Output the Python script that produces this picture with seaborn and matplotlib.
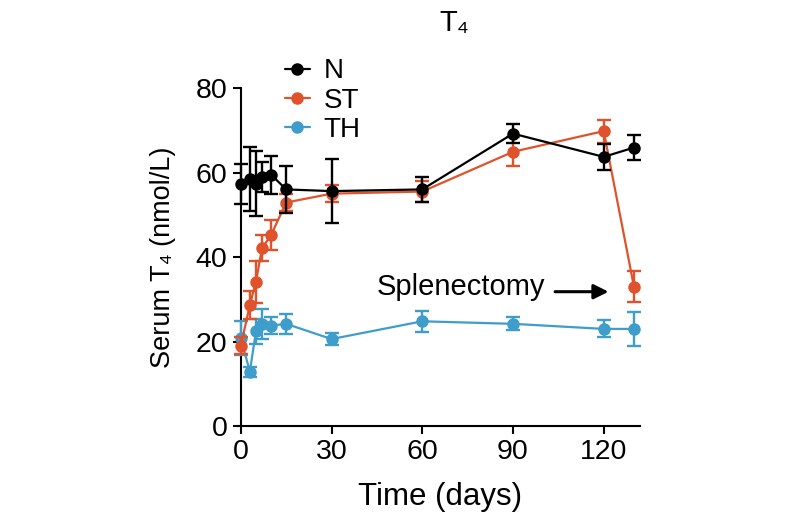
import matplotlib
matplotlib.use("Agg")
import matplotlib.pyplot as plt
import seaborn as sns
import pandas as pd
import numpy as np
from matplotlib.lines import Line2D

days = [0, 3, 5, 7, 10, 15, 30, 60, 90, 120, 130]
n_mean = [57.2, 58.5, 57.3, 59.0, 59.5, 56.0, 55.6, 56.0, 69.2, 63.7, 65.9]
n_err = [4.7, 7.6, 7.7, 3.5, 4.5, 5.6, 7.5, 3.0, 2.3, 3.0, 3.0]
st_mean = [19.0, 28.7, 34.1, 42.1, 45.2, 52.9, 55.0, 55.5, 64.9, 69.8, 33.0]
st_err = [2.0, 3.3, 5.0, 3.0, 3.5, 2.0, 2.0, 2.5, 3.4, 2.7, 3.6]
th_mean = [20.8, 12.9, 22.4, 24.2, 23.8, 24.2, 20.6, 24.8, 24.2, 23.0, 23.0]
th_err = [4.0, 1.2, 3.0, 3.5, 2.0, 2.4, 1.5, 2.5, 1.5, 2.0, 4.0]

groups = ["N", "ST", "TH"]
colors = {"N": "#000000", "ST": "#E0522B", "TH": "#3E9DCB"}
xticks = [0, 30, 60, 90, 120]
yticks = [0, 20, 40, 60, 80]

sns.set_theme(style="ticks")
plt.rcParams["font.family"] = ["Liberation Sans", "DejaVu Sans"]
plt.rcParams["text.color"] = "black"
plt.rcParams["axes.labelcolor"] = "black"
plt.rcParams["xtick.color"] = "black"
plt.rcParams["ytick.color"] = "black"

df = pd.DataFrame({
    "day": days * 3,
    "value": n_mean + st_mean + th_mean,
    "err": n_err + st_err + th_err,
    "group": ["N"] * len(days) + ["ST"] * len(days) + ["TH"] * len(days),
})

fig = plt.figure(figsize=(8, 5.3), dpi=100)
ax = fig.add_axes([0.301, 0.196, 0.499, 0.638])

draw_order = ["TH", "ST", "N"]
z = {"TH": 3, "ST": 4, "N": 5}
for g in draw_order:
    sub = df[df["group"] == g]
    ax.errorbar(sub["day"], sub["value"], yerr=sub["err"], fmt="none",
                ecolor=colors[g], elinewidth=1.7, capsize=4.8, capthick=1.7,
                zorder=z[g], clip_on=False)
    sns.lineplot(data=sub, x="day", y="value", color=colors[g], marker="o",
                 markersize=9, markeredgewidth=0, linewidth=1.6, ax=ax,
                 zorder=z[g], clip_on=False, legend=False)

ax.set_xlim(0, 132)
ax.set_ylim(0, 80)
ax.set_xticks(xticks)
ax.set_yticks(yticks)
ax.tick_params(labelsize=20.5, width=1.5, length=6, direction="out",
               color="black", labelcolor="black")
for s in ["left", "bottom"]:
    ax.spines[s].set_linewidth(1.5)
    ax.spines[s].set_color("black")
sns.despine(ax=ax)

ax.set_xlabel("Time (days)", fontsize=22.5, labelpad=12, color="black")
ax.set_ylabel("Serum T\u2084 (nmol/L)", fontsize=19.5, labelpad=14, color="black")
fig.text(0.568, 0.957, "T\u2084", fontsize=21, ha="center", va="center",
         color="black")

ax.annotate("", xy=(122.5, 31.8), xytext=(103, 31.8),
            arrowprops=dict(arrowstyle="-|>", color="black", lw=2.2,
                            mutation_scale=22))
ax.text(100.8, 33.0, "Splenectomy", fontsize=21, ha="right", va="center",
        color="black")

handles = [Line2D([0], [0], color=colors[g], marker="o", markersize=9,
                  markeredgewidth=0, linewidth=1.6) for g in groups]
fig.legend(handles, groups, loc="upper left", bbox_to_anchor=(0.356, 0.89),
           frameon=False, fontsize=20, handlelength=0.9, handletextpad=0.5,
           labelspacing=0.12, borderaxespad=0, borderpad=0)

fig.savefig("out.png", dpi=100, facecolor="white")
